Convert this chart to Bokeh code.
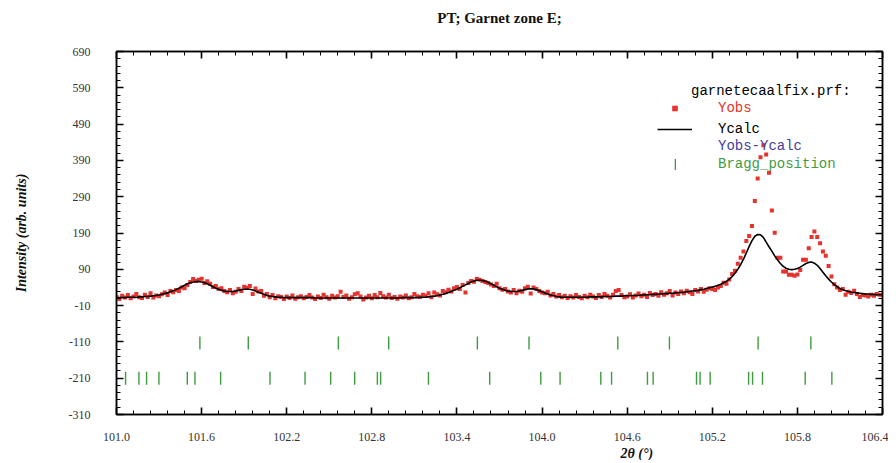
import numpy as np
from bokeh.plotting import figure
from bokeh.models import (Range1d, LinearAxis, FixedTicker, NumeralTickFormatter,
                          Legend, LegendItem, Label, Title)
from bokeh.embed import file_html
from bokeh.resources import INLINE

# ---------------- data ----------------
title_text = "PT; Garnet zone E;"
x_label_text = "2θ (°)"
y_label_text = "Intensity (arb. units)"
x_start = 101.0
x_step = 0.02

y_obs = [
    14, 8, 17, 12, 19, 10, 15, 22, 13, 11,
    20, 14, 24, 12, 18, 16, 21, 26, 19, 30,
    27, 33, 30, 40, 38, 47, 55, 63, 58, 61,
    64, 52, 57, 50, 41, 44, 36, 38, 30, 27,
    33, 24, 28, 36, 30, 42, 39, 44, 22, 37,
    29, 30, 17, 22, 13, 19, 10, 16, 14, 8,
    15, 11, 18, 9, 13, 16, 10, 14, 19, 12,
    8, 15, 11, 20, 13, 9, 17, 12, 16, 28,
    14, 18, 9, 13, 21, 24, 15, 7, 12, 17,
    10, 19, 13, 25, 16, 12, 20, 11, 14, 9,
    15, 12, 18, 10, 13, 22, 16, 14, 20, 17,
    24, 13, 26, 21, 18, 30, 27, 34, 29, 38,
    41, 36, 47, 26, 52, 58, 56, 63, 61, 58,
    55, 52, 48, 44, 50, 38, 34, 36, 29, 26,
    33, 24, 31, 28, 38, 42, 23, 40, 36, 30,
    26, 24, 28, 18, 22, 15, 19, 13, 17, 11,
    16, 12, 19, 14, 10, 17, 13, 20, 15, 11,
    19, 14, 22, 17, 12, 20, 30, 33, 19, 13,
    15, 21, 12, 18, 23, 16, 20, 14, 25, 19,
    22, 17, 27, 20, 24, 30, 18, 26, 22, 29,
    24, 31, 27, 22, 33, 29, 36, 28, 34, 38,
    36, 33, 40, 44, 53, 50, 62, 77, 86, 105,
    122, 139, 168, 182, 209, 278, 340, 399, 432, 406,
    356, 252, 191, 122, 122, 84, 84, 75, 75, 72,
    76, 88, 116, 116, 148, 179, 194, 179, 162, 139,
    127, 99, 70, 49, 40, 33, 36, 20, 28, 25,
    31, 22, 14, 19, 18, 15, 20, 17, 22, 20,
    19,
]

y_calc = [
    12, 12, 12, 12, 13, 13, 13, 13, 14, 14,
    15, 15, 16, 17, 18, 19, 21, 23, 25, 28,
    31, 34, 38, 42, 46, 50, 53, 55, 56, 56,
    55, 53, 50, 46, 42, 38, 35, 32, 30, 29,
    29, 29, 30, 32, 34, 35, 35, 35, 33, 30,
    27, 24, 21, 18, 16, 15, 14, 13, 13, 12,
    12, 12, 12, 12, 12, 12, 12, 12, 12, 12,
    11, 11, 11, 11, 11, 11, 11, 11, 11, 11,
    11, 11, 11, 11, 11, 11, 11, 11, 11, 11,
    11, 11, 11, 11, 11, 11, 11, 11, 11, 11,
    11, 12, 12, 12, 12, 12, 12, 13, 13, 13,
    14, 15, 16, 17, 19, 21, 23, 26, 29, 32,
    35, 39, 43, 47, 51, 55, 58, 60, 60, 59,
    57, 54, 50, 46, 42, 38, 35, 32, 30, 29,
    29, 29, 30, 32, 34, 36, 36, 36, 34, 31,
    28, 25, 22, 19, 17, 15, 14, 13, 13, 13,
    13, 13, 13, 13, 13, 13, 13, 14, 14, 14,
    14, 14, 15, 15, 15, 15, 16, 16, 16, 17,
    17, 17, 18, 18, 18, 19, 19, 20, 20, 21,
    21, 22, 22, 23, 23, 24, 24, 25, 26, 26,
    27, 28, 29, 30, 31, 32, 34, 35, 37, 39,
    41, 43, 46, 49, 53, 57, 63, 70, 79, 90,
    103, 118, 135, 153, 169, 181, 186, 185, 178, 165,
    152, 140, 127, 116, 106, 98, 93, 90, 89, 90,
    92, 96, 101, 106, 109, 110, 107, 101, 92, 82,
    72, 63, 55, 48, 42, 37, 34, 31, 29, 27,
    26, 25, 24, 23, 22, 22, 21, 21, 20, 20,
    20,
]

bragg_phase1 = [101.588, 101.929, 102.564, 102.919, 103.544, 103.908,
                104.534, 104.898, 105.523, 105.895]
bragg_phase2 = [101.064, 101.158, 101.212, 101.299, 101.499, 101.553, 101.734,
                102.082, 102.329, 102.510, 102.679, 102.839, 102.862, 103.199,
                103.631, 103.991, 104.127, 104.414, 104.490, 104.743, 104.783,
                105.089, 105.114, 105.185, 105.456, 105.484, 105.554, 105.855,
                106.043]
bragg_levels = [-113, -210]

x_ticks = [101.0, 101.6, 102.2, 102.8, 103.4, 104.0, 104.6, 105.2, 105.8, 106.4]
y_ticks = [-310, -210, -110, -10, 90, 190, 290, 390, 490, 590, 690]
x_minor_step = 0.12
y_minor_step = 20

two_theta = np.round(x_start + x_step * np.arange(len(y_obs)), 2)
x_minor = [round(v, 2) for v in np.arange(x_ticks[0], x_ticks[-1] + 1e-9, x_minor_step)]
y_minor = list(range(y_ticks[0], y_ticks[-1] + 1, y_minor_step))
bragg_x = bragg_phase1 + bragg_phase2
bragg_y = [bragg_levels[0]] * len(bragg_phase1) + [bragg_levels[1]] * len(bragg_phase2)

# ---------------- colours / fonts ----------------
RED = "#e8322e"
GREEN = "#3f9c3f"
NAVY = "#43439e"
SERIF = "Liberation Serif"
MONO = "Liberation Mono"

p = figure(width=888, height=460,
           x_range=Range1d(x_ticks[0], x_ticks[-1]),
           y_range=Range1d(y_ticks[0], y_ticks[-1]),
           output_backend="svg", toolbar_location=None,
           min_border_left=116, min_border_right=6,
           min_border_top=51, min_border_bottom=46)

p.xgrid.visible = False
p.ygrid.visible = False
p.outline_line_color = "black"
p.outline_line_width = 1.5

def style_axis(ax, ticks, minor, fmt):
    ax.ticker = FixedTicker(ticks=ticks, minor_ticks=minor)
    ax.formatter = NumeralTickFormatter(format=fmt)
    ax.major_tick_in = 7
    ax.major_tick_out = 0
    ax.minor_tick_in = 4
    ax.minor_tick_out = 0
    ax.major_tick_line_color = "black"
    ax.minor_tick_line_color = "black"
    ax.major_tick_line_width = 1.6
    ax.minor_tick_line_width = 1
    ax.axis_line_color = "black"
    ax.axis_line_width = 1.5
    ax.major_label_text_font = SERIF
    ax.major_label_text_font_size = "12px"
    ax.major_label_text_color = "#333333"

style_axis(p.xaxis[0], x_ticks, x_minor, "0.0")
style_axis(p.yaxis[0], y_ticks, y_minor, "0")
p.xaxis[0].major_label_standoff = 18
p.yaxis[0].major_label_standoff = 26
p.yaxis[0].axis_label = y_label_text
p.yaxis[0].axis_label_text_font = SERIF
p.yaxis[0].axis_label_text_font_size = "14px"
p.yaxis[0].axis_label_text_font_style = "bold italic"
p.yaxis[0].axis_label_text_color = "#111111"
p.yaxis[0].axis_label_standoff = 37

top_ax = LinearAxis()
right_ax = LinearAxis()
for ax, (t, m) in ((top_ax, (x_ticks, x_minor)), (right_ax, (y_ticks, y_minor))):
    style_axis(ax, t, m, "0")
    ax.major_label_text_font_size = "0px"
    ax.major_label_standoff = 0
# the chart title sits above the top frame edge
top_ax.axis_label = title_text
top_ax.axis_label_text_font = SERIF
top_ax.axis_label_text_font_size = "15px"
top_ax.axis_label_text_font_style = "bold"
top_ax.axis_label_text_color = "#111111"
top_ax.axis_label_standoff = 26
p.add_layout(top_ax, "above")
p.add_layout(right_ax, "right")

# x-axis label, placed right of centre as in the original
p.add_layout(Title(text=x_label_text, text_font=SERIF, text_font_size="14px",
                   text_font_style="bold italic", text_color="#111111",
                   align="left", offset=504, standoff=0), "below")

# ---------------- data marks ----------------
r_obs = p.scatter(two_theta, y_obs, marker="square", size=4,
                  fill_color=RED, line_color=None)
r_calc = p.line(two_theta, y_calc, line_color="black", line_width=1.6)
r_diff = p.line([], [], line_color=NAVY, line_width=1.2)
r_bragg = p.rect(bragg_x, bragg_y, width=1.4, height=13,
                 width_units="screen", height_units="screen",
                 fill_color=GREEN, line_color=None)

# ---------------- legend ----------------
def add_legend(renderer, text, color, loc, gw=35, standoff=26):
    lg = Legend(items=[LegendItem(label=text, renderers=[renderer])],
                location=loc, label_text_font=MONO, label_text_font_size="14px",
                label_text_color=color, glyph_width=gw, glyph_height=14,
                label_height=14, label_standoff=standoff, padding=0, margin=0,
                spacing=0, border_line_color=None, background_fill_alpha=0)
    p.add_layout(lg, "center")

add_legend(r_obs, "Yobs", RED, (541, 298))
add_legend(r_calc, "Ycalc", "black", (541, 277))
add_legend(r_diff, "Yobs-Ycalc", NAVY, (541, 260))
add_legend(r_bragg, "Bragg_position", GREEN, (558, 242), gw=2, standoff=42)

p.add_layout(Label(x=105.05, y=580, text="garnetecaalfix.prf:", text_font=MONO,
                   text_font_size="14px", text_color="black",
                   text_baseline="middle", text_align="left"))

open("out.html", "w").write(file_html(p, INLINE))
